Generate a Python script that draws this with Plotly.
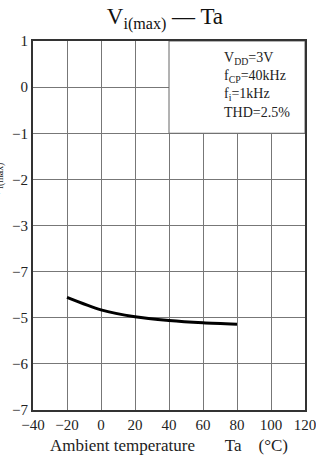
import plotly.graph_objects as go

# Data
temps = [-20, 0, 20, 40, 60, 80]
vimax = [-4.56, -4.83, -4.98, -5.06, -5.11, -5.14]

x_ticks = [-40, -20, 0, 20, 40, 60, 80, 100, 120]
x_ticklabels = ["\u221240", "\u221220", "0", "20", "40", "60", "80", "100", "120"]
y_ticks = [1, 0, -1, -2, -3, -4, -5, -6, -7]
y_ticklabels = ["1", "0", "\u22121", "\u22122", "\u22123", "\u22127", "\u22125", "\u22126", "\u22127"]

cond_text = "V<sub>DD</sub>=3V<br>f<sub>CP</sub>=40kHz<br>f<sub>i</sub>=1kHz<br>THD=2.5%"

FONT = "Liberation Serif, Times New Roman, serif"

fig = go.Figure()
fig.add_trace(go.Scatter(
    x=temps, y=vimax, mode="lines",
    line=dict(color="black", width=3, shape="spline", smoothing=0.8),
    showlegend=False, hoverinfo="skip"))

fig.add_shape(type="rect", xref="x", yref="y", x0=40, x1=120, y0=-1, y1=1,
              fillcolor="white", line=dict(color="#666", width=1), layer="between")

fig.add_annotation(x=0.695, y=0.98, xref="paper", yref="paper",
                   xanchor="left", yanchor="top", align="left",
                   text=cond_text, showarrow=False,
                   font=dict(family=FONT, size=14, color="#222"))

fig.add_annotation(x=-0.13, y=0.62, xref="paper", yref="paper",
                   text="V<sub>i(max)</sub>", textangle=-90, showarrow=False,
                   xanchor="center", yanchor="middle",
                   font=dict(family=FONT, size=14, color="#222"))

fig.update_layout(
    width=316, height=464,
    margin=dict(l=33, r=11, t=41, b=54, autoexpand=False),
    paper_bgcolor="white", plot_bgcolor="white",
    font=dict(family=FONT, size=14, color="#222"),
    title=dict(text="V<sub>i(max)</sub> \u2014 Ta", x=0.522, xanchor="center",
               y=0.983, yanchor="top", font=dict(family=FONT, size=23, color="#111")),
    xaxis=dict(range=[-40, 120], tickvals=x_ticks, ticktext=x_ticklabels,
               showgrid=True, gridcolor="#777", gridwidth=1, automargin=False,
               ticklabeloverflow="allow",
               showline=True, linecolor="#333", linewidth=2, mirror=True,
               ticks="", zeroline=False, ticklen=0, tickfont=dict(size=15),
               title=dict(text="Ambient temperature\u2003 \u2002Ta\u2003(\u00b0C)", standoff=7,
                          font=dict(size=17))),
    yaxis=dict(range=[-7, 1], tickvals=y_ticks, ticktext=y_ticklabels,
               showgrid=True, gridcolor="#777", gridwidth=1, automargin=False,
               ticklabeloverflow="allow",
               showline=True, linecolor="#333", linewidth=2, mirror=True,
               ticks="", zeroline=False, tickfont=dict(size=15)),
)

fig.write_html("out.html", config={"displayModeBar": False},
               post_script="document.body.style.margin='0';")
